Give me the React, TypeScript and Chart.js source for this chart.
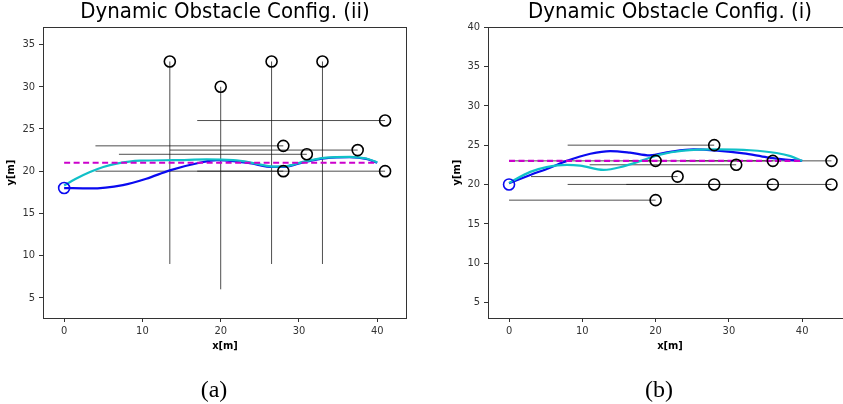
import React, { useEffect, useRef } from 'react';
import { Chart, registerables } from 'chart.js';
Chart.register(...registerables);

// ---------- Panel (a): Dynamic Obstacle Config. (ii) ----------
const A_TITLE = 'Dynamic Obstacle Config. (ii)';
const A_CAPTION = '(a)';
const A_X_TICKS = [0, 10, 20, 30, 40];
const A_Y_TICKS = [5, 10, 15, 20, 25, 30, 35];
const A_X_RANGE = [-2.7, 43.8];
const A_Y_RANGE = [2.6, 37.05];
const A_OBST_X = [13.5, 20, 26.5, 33, 41, 28, 31, 37.5, 28, 41];
const A_OBST_Y = [33, 30, 33, 33, 26, 23, 22, 22.5, 20, 20];
const A_TRAJ_X0 = [13.5, 20, 26.5, 33, 17, 4, 7, 13.5, 4, 17];
const A_TRAJ_Y0 = [9, 6, 9, 9, 26, 23, 22, 22.5, 20, 20];
const A_TRAJ_X1 = [13.5, 20, 26.5, 33, 41, 28, 31, 37.5, 28, 41];
const A_TRAJ_Y1 = [33, 30, 33, 33, 26, 23, 22, 22.5, 20, 20];
const A_BLUE_X = [0, 3.3, 7.5, 10.5, 13.5, 17.3, 19.5, 21.6, 23.7, 26.7, 28.4, 30.5, 33.5, 36.5, 38.6, 40];
const A_BLUE_Y = [18, 17.95, 18.35, 19.1, 20.1, 21.0, 21.3, 21.2, 20.95, 20.5, 20.55, 21.05, 21.55, 21.65, 21.45, 21.0];
const A_CYAN_X = [0, 1.5, 3.3, 5, 6.7, 9.7, 14, 18.2, 21.6, 23.7, 26.7, 28.4, 30.5, 33.5, 36.5, 38.6, 40];
const A_CYAN_Y = [18.3, 19.1, 19.9, 20.5, 20.9, 21.25, 21.3, 21.4, 21.3, 21.05, 20.55, 20.6, 21.1, 21.6, 21.7, 21.5, 21.05];
const A_REF_X = [0, 40];
const A_REF_Y = [21, 21];
const A_START = [0, 18];

// ---------- Panel (b): Dynamic Obstacle Config. (i) ----------
const B_TITLE = 'Dynamic Obstacle Config. (i)';
const B_CAPTION = '(b)';
const B_X_TICKS = [0, 10, 20, 30, 40];
const B_Y_TICKS = [5, 10, 15, 20, 25, 30, 35, 40];
const B_X_RANGE = [-2.87, 46.8];
const B_Y_RANGE = [3.0, 40];
const B_OBST_X = [28, 20, 36, 44, 31, 23, 28, 36, 44, 20];
const B_OBST_Y = [25, 23, 23, 23, 22.5, 21, 20, 20, 20, 18];
const B_TRAJ_X0 = [8, 0, 16, 24, 11, 3, 8, 16, 24, 0];
const B_TRAJ_Y0 = [25, 23, 23, 23, 22.5, 21, 20, 20, 20, 18];
const B_TRAJ_X1 = [28, 20, 36, 44, 31, 23, 28, 36, 44, 20];
const B_TRAJ_Y1 = [25, 23, 23, 23, 22.5, 21, 20, 20, 20, 18];
const B_BLUE_X = [0, 2.9, 5.5, 7.9, 11.1, 13.8, 16.5, 19.2, 22, 25.2, 28.4, 32, 35.2, 37.4, 40];
const B_BLUE_Y = [20.15, 21.2, 22.1, 23.0, 23.9, 24.25, 24.05, 23.7, 24.15, 24.45, 24.3, 23.95, 23.45, 23.2, 23.0];
const B_CYAN_X = [0, 2.9, 5.1, 7.9, 9.7, 12.9, 15.6, 18.3, 20.6, 23.8, 28.4, 32.9, 36.5, 38.4, 40];
const B_CYAN_Y = [20.2, 21.6, 22.2, 22.5, 22.4, 21.85, 22.3, 23.1, 23.8, 24.3, 24.45, 24.35, 24.0, 23.6, 23.0];
const B_REF_X = [0, 40];
const B_REF_Y = [23, 23];
const B_START = [0, 20];

const SANS = "'DejaVu Sans Condensed', 'Liberation Sans Narrow', 'DejaVu Sans', sans-serif";

const pts = (xs: number[], ys: number[]) => xs.map((x, i) => ({ x, y: ys[i] }));

const framePlugin = {
  id: 'frame',
  afterDraw(chart: any) {
    const { ctx, chartArea: a } = chart;
    ctx.save();
    ctx.strokeStyle = '#333';
    ctx.lineWidth = 1;
    ctx.strokeRect(Math.round(a.left) + 0.5, Math.round(a.top) + 0.5, Math.round(a.right - a.left) - 1, Math.round(a.bottom - a.top));
    ctx.restore();
  },
};

function makeConfig(p: any) {
  const datasets: any[] = [];
  for (let i = 0; i < p.tx0.length; i++) {
    datasets.push({
      data: [{ x: p.tx0[i], y: p.ty0[i] }, { x: p.tx1[i], y: p.ty1[i] }],
      showLine: true,
      borderColor: 'rgba(20,20,20,0.75)',
      borderWidth: 1,
      pointRadius: 0,
      order: 5,
    });
  }
  datasets.push({
    data: pts(p.bx, p.by), showLine: true, borderColor: '#0a0af0', borderWidth: 2.2,
    pointRadius: 0, tension: 0.4, cubicInterpolationMode: 'monotone', order: 4,
  });
  datasets.push({
    data: pts(p.cx, p.cy), showLine: true, borderColor: '#10c0c8', borderWidth: 2.2,
    pointRadius: 0, tension: 0.4, cubicInterpolationMode: 'monotone', order: 3,
  });
  datasets.push({
    data: pts(p.rx, p.ry), showLine: true, borderColor: '#cc00cc', borderWidth: 2.2,
    borderDash: [6, 3.5], pointRadius: 0, order: 2,
  });
  datasets.push({
    data: pts(p.ox, p.oy), showLine: false, pointStyle: 'circle', pointRadius: 5.5,
    borderColor: '#000', borderWidth: 1.6, backgroundColor: 'rgba(0,0,0,0)', order: 1,
  });
  datasets.push({
    data: [{ x: p.start[0], y: p.start[1] }], showLine: false, pointStyle: 'circle', pointRadius: 5.5,
    borderColor: '#0a0af0', borderWidth: 1.6, backgroundColor: 'rgba(0,0,0,0)', order: 0,
  });

  const tickFont = { family: SANS, size: 11 };
  const axisFont = { family: SANS, size: 11, weight: 'bold' as const };
  return {
    type: 'scatter' as const,
    data: { datasets },
    plugins: [framePlugin],
    options: {
      responsive: false,
      maintainAspectRatio: false,
      animation: false as const,
      events: [],
      layout: { padding: { left: 0, right: 13, top: 0, bottom: 51 } },
      plugins: {
        legend: { display: false },
        tooltip: { enabled: false },
        title: {
          display: true, text: p.title, color: '#000', fullSize: false,
          font: { family: SANS, size: 22, weight: 'normal' as const, lineHeight: 1.15 },
          padding: { top: 0, bottom: 2 },
        },
      },
      scales: {
        x: {
          type: 'linear' as const, min: p.xr[0], max: p.xr[1],
          afterBuildTicks: (s: any) => { s.ticks = p.xt.map((v: number) => ({ value: v })); },
          afterFit: (s: any) => { s.height = 35; },
          grid: { drawOnChartArea: false, drawTicks: true, tickLength: 4, tickColor: '#333' },
          border: { display: false },
          ticks: { color: '#333', font: tickFont, padding: 3, maxRotation: 0, autoSkip: false },
          title: { display: true, text: 'x[m]', color: '#000', font: axisFont, padding: 0 },
        },
        y: {
          type: 'linear' as const, min: p.yr[0], max: p.yr[1],
          afterBuildTicks: (s: any) => { s.ticks = p.yt.map((v: number) => ({ value: v })); },
          afterFit: (s: any) => { s.width = p.yw; },
          grid: { drawOnChartArea: false, drawTicks: true, tickLength: 4, tickColor: '#333' },
          border: { display: false },
          ticks: { color: '#333', font: tickFont, padding: 4, autoSkip: false },
          title: { display: true, text: 'y[m]', color: '#000', font: axisFont, padding: { top: p.ytp, bottom: 0 } },
        },
      },
    },
  };
}

function Panel(props: { cfg: any; left: number; width: number }) {
  const ref = useRef<HTMLCanvasElement | null>(null);
  useEffect(() => {
    if (!ref.current) return;
    const chart = new Chart(ref.current, makeConfig(props.cfg) as any);
    return () => chart.destroy();
  }, []);
  return (
    <canvas
      ref={ref}
      width={props.width}
      height={404}
      style={{ position: 'absolute', left: props.left, top: 0, width: props.width, height: 404 }}
    />
  );
}

const captionStyle = (cx: number): React.CSSProperties => ({
  position: 'absolute', left: cx - 50, width: 100, top: 376, lineHeight: '26px', textAlign: 'center',
  fontFamily: "'Liberation Serif', 'DejaVu Serif', serif", fontSize: 24, color: '#000',
});

export default function App() {
  const cfgA = {
    title: A_TITLE, xt: A_X_TICKS, yt: A_Y_TICKS, xr: A_X_RANGE, yr: A_Y_RANGE,
    ox: A_OBST_X, oy: A_OBST_Y, tx0: A_TRAJ_X0, ty0: A_TRAJ_Y0, tx1: A_TRAJ_X1, ty1: A_TRAJ_Y1,
    bx: A_BLUE_X, by: A_BLUE_Y, cx: A_CYAN_X, cy: A_CYAN_Y, rx: A_REF_X, ry: A_REF_Y, start: A_START,
    yw: 43, ytp: 5,
  };
  const cfgB = {
    title: B_TITLE, xt: B_X_TICKS, yt: B_Y_TICKS, xr: B_X_RANGE, yr: B_Y_RANGE,
    ox: B_OBST_X, oy: B_OBST_Y, tx0: B_TRAJ_X0, ty0: B_TRAJ_Y0, tx1: B_TRAJ_X1, ty1: B_TRAJ_Y1,
    bx: B_BLUE_X, by: B_BLUE_Y, cx: B_CYAN_X, cy: B_CYAN_Y, rx: B_REF_X, ry: B_REF_Y, start: B_START,
    yw: 48, ytp: 11,
  };
  return (
    <div style={{ position: 'fixed', left: 0, top: 0, width: 843, height: 404, overflow: 'hidden', background: '#fff' }}>
      <Panel cfg={cfgA} left={0} width={420} />
      <Panel cfg={cfgB} left={440} width={425} />
      <div style={captionStyle(214)}>{A_CAPTION}</div>
      <div style={captionStyle(659)}>{B_CAPTION}</div>
    </div>
  );
}
